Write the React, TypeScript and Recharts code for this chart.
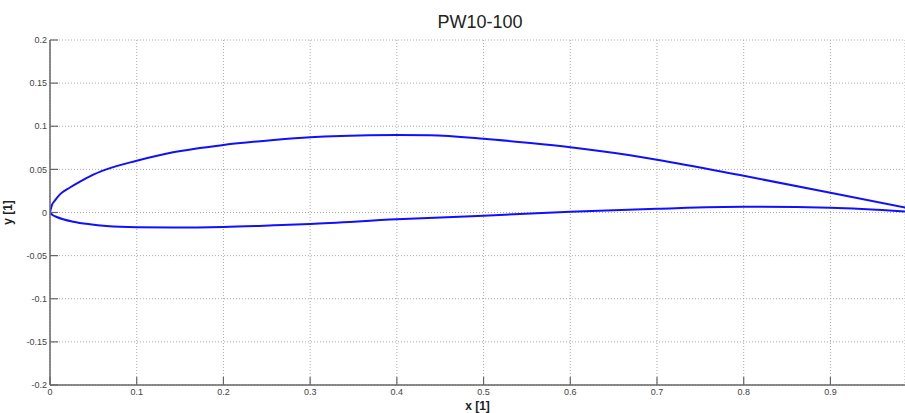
import { LineChart, Line, XAxis, YAxis, CartesianGrid } from "recharts";

// Airfoil section PW10-100, upper and lower surface (chord-normalised)
const upperX = [0, 0.002, 0.0058, 0.0115, 0.023, 0.035, 0.046, 0.065, 0.1, 0.142, 0.2, 0.258, 0.3, 0.335, 0.4, 0.438, 0.5, 0.554, 0.6, 0.669, 0.7, 0.8, 0.9, 1.0];
const upperY = [0, 0.008, 0.014, 0.021, 0.029, 0.036, 0.042, 0.05, 0.06, 0.0698, 0.0783, 0.084, 0.0872, 0.0888, 0.0899, 0.0895, 0.0855, 0.0805, 0.0756, 0.0663, 0.0612, 0.0425, 0.023, 0.003];

const lowerX = [0, 0.003, 0.0077, 0.027, 0.046, 0.065, 0.1, 0.142, 0.2, 0.258, 0.3, 0.4, 0.5, 0.6, 0.7, 0.8, 0.9, 1.0];
const lowerY = [0, -0.003, -0.0052, -0.0107, -0.0137, -0.0157, -0.0172, -0.0175, -0.0168, -0.0149, -0.0133, -0.0079, -0.0037, 0.0009, 0.0044, 0.0067, 0.0056, 0.0002];

const xTicks = [0, 0.1, 0.2, 0.3, 0.4, 0.5, 0.6, 0.7, 0.8, 0.9];
const yTicks = [-0.2, -0.15, -0.1, -0.05, 0, 0.05, 0.1, 0.15, 0.2];

const upper = upperX.map((x, i) => ({ x, y: upperY[i] }));
const lower = lowerX.map((x, i) => ({ x, y: lowerY[i] }));

const AXIS = "#666";
const TICK_LEN = 8;
const FONT = "'Liberation Sans', Arial, sans-serif";

// MATLAB-style ticks: marks point into the plot, labels sit outside
const BottomTick = (props: any) => {
  const { x, y, payload } = props;
  const axisY = y - 4;
  return (
    <g>
      <line x1={x} x2={x} y1={axisY} y2={axisY - TICK_LEN} stroke={AXIS} strokeWidth={1.2} />
      <text x={x} y={y} dy="0.71em" textAnchor="middle" fontSize={9} fill="#444" fontFamily={FONT}>
        {String(payload.value)}
      </text>
    </g>
  );
};

const TopTick = (props: any) => {
  const { x, y } = props;
  return <line x1={x} x2={x} y1={y} y2={y + TICK_LEN} stroke={AXIS} strokeWidth={1.2} />;
};

const LeftTick = (props: any) => {
  const { x, y, payload } = props;
  const axisX = x + 3;
  return (
    <g>
      <line x1={axisX} x2={axisX + TICK_LEN} y1={y} y2={y} stroke={AXIS} strokeWidth={1.2} />
      <text x={x} y={y} dy="0.35em" textAnchor="end" fontSize={9} fill="#444" fontFamily={FONT}>
        {String(payload.value)}
      </text>
    </g>
  );
};

export default function App() {
  return (
    <div style={{ position: "absolute", left: 0, top: 0, width: 905, height: 413, background: "#fff" }}>
      <div
        style={{
          position: "absolute", left: 0, width: 960, top: 10, textAlign: "center",
          fontFamily: FONT, fontSize: 18, color: "#222", lineHeight: "24px",
        }}
      >
        PW10-100
      </div>
      <LineChart width={905} height={413} margin={{ top: 40, right: 0, bottom: 0, left: 0 }}>
        <CartesianGrid stroke="#aaa" strokeDasharray="1 2" horizontal vertical />
        <XAxis
          type="number"
          dataKey="x"
          domain={[0, 0.986]}
          allowDataOverflow
          ticks={xTicks}
          interval={0}
          height={28}
          tickSize={0}
          tickMargin={4}
          tick={<BottomTick />}
          axisLine={{ stroke: AXIS, strokeWidth: 1.5 }}
          label={{ value: "x [1]", position: "insideBottom", offset: 3, fontSize: 12, fontWeight: "bold", fill: "#222", fontFamily: FONT }}
        />
        <XAxis
          xAxisId="top"
          orientation="top"
          type="number"
          dataKey="x"
          domain={[0, 0.986]}
          allowDataOverflow
          ticks={xTicks}
          interval={0}
          height={0}
          tickSize={0}
          tickMargin={0}
          tick={<TopTick />}
          axisLine={{ stroke: AXIS, strokeWidth: 1.5 }}
        />
        <YAxis
          type="number"
          dataKey="y"
          domain={[-0.2, 0.2]}
          allowDataOverflow
          ticks={yTicks}
          interval={0}
          width={50}
          tickSize={0}
          tickMargin={3}
          tick={<LeftTick />}
          axisLine={{ stroke: AXIS, strokeWidth: 1.5 }}
          label={{ value: "y [1]", angle: -90, position: "insideLeft", offset: 8, fontSize: 12, fontWeight: "bold", fill: "#222", fontFamily: FONT, style: { textAnchor: "middle" } }}
        />
        <Line
          data={upper}
          dataKey="y"
          type="monotoneX"
          stroke="#1010ff"
          strokeWidth={2}
          dot={false}
          isAnimationActive={false}
        />
        <Line
          data={lower}
          dataKey="y"
          type="monotoneX"
          stroke="#1010ff"
          strokeWidth={2}
          dot={false}
          isAnimationActive={false}
        />
      </LineChart>
    </div>
  );
}
